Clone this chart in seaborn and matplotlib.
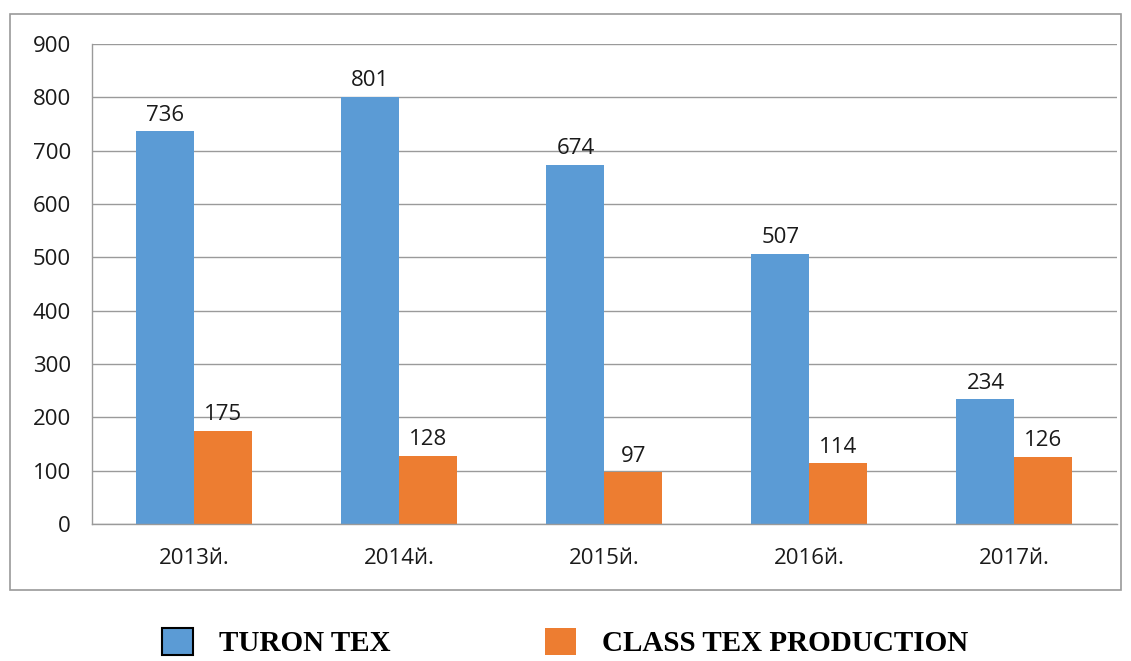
import matplotlib.pyplot as plt
import pandas as pd
import seaborn as sns
from matplotlib.patches import Patch, Rectangle

years = ["2013й.", "2014й.", "2015й.", "2016й.", "2017й."]
turon_tex = [736, 801, 674, 507, 234]
class_tex = [175, 128, 97, 114, 126]
series = ["TURON TEX", "CLASS TEX PRODUCTION"]
colors = ["#5B9BD5", "#ED7D31"]

df = pd.DataFrame({
    "year": years * 2,
    "value": turon_tex + class_tex,
    "company": [series[0]] * len(years) + [series[1]] * len(years),
})

sns.set_style("white")
plt.rcParams["font.family"] = ["Open Sans", "DejaVu Sans"]

fig = plt.figure(figsize=(11.31, 6.61), dpi=100)
ax = fig.add_axes([0.0813, 0.2073, 0.9063, 0.7261])

# outer chart frame
fig.patches.append(Rectangle((0.009, 0.107), 0.982, 0.872, transform=fig.transFigure,
                             fill=False, edgecolor="#9a9a9a", linewidth=1.2))

sns.barplot(data=df, x="year", y="value", hue="company", palette=colors,
            width=0.566, gap=0, saturation=1, linewidth=0, ax=ax, legend=False, errorbar=None)

for cont in ax.containers:
    ax.bar_label(cont, padding=4, fontsize=16, color="#1a1a1a")

ax.set_ylim(0, 900)
ax.set_yticks(range(0, 901, 100))
ax.set_xlim(-0.5, len(years) - 0.5)
ax.set_xlabel("")
ax.set_ylabel("")
ax.grid(axis="y", color="#9a9a9a", linewidth=1)
ax.set_axisbelow(True)
for s in ["top", "right"]:
    ax.spines[s].set_visible(False)
for s in ["left", "bottom"]:
    ax.spines[s].set_color("#9a9a9a")
    ax.spines[s].set_linewidth(1)

# y ticks as grid extensions to the left
ax.tick_params(axis="y", length=7, color="#9a9a9a", width=1, pad=8, labelsize=16, labelcolor="#1a1a1a")
ax.tick_params(axis="x", length=0, pad=17, labelsize=16, labelcolor="#1a1a1a")
# x ticks at category boundaries
ax.set_xticks([i - 0.5 for i in range(len(years) + 1)], minor=True)
ax.tick_params(axis="x", which="minor", length=7, color="#9a9a9a", width=1, direction="out")

handles = [Patch(facecolor=colors[0], edgecolor="black", linewidth=1.5),
           Patch(facecolor=colors[1], edgecolor="none")]
fig.legend(handles, series, loc="center", bbox_to_anchor=(0.5, 0.028), ncol=2,
           frameon=False, handlelength=1.05, handleheight=1.05, handletextpad=0.9,
           columnspacing=5.3, labelcolor="black", borderpad=0.2,
           prop={"family": "Liberation Serif", "weight": "bold", "size": 21})

fig.savefig("out.png", dpi=100)
